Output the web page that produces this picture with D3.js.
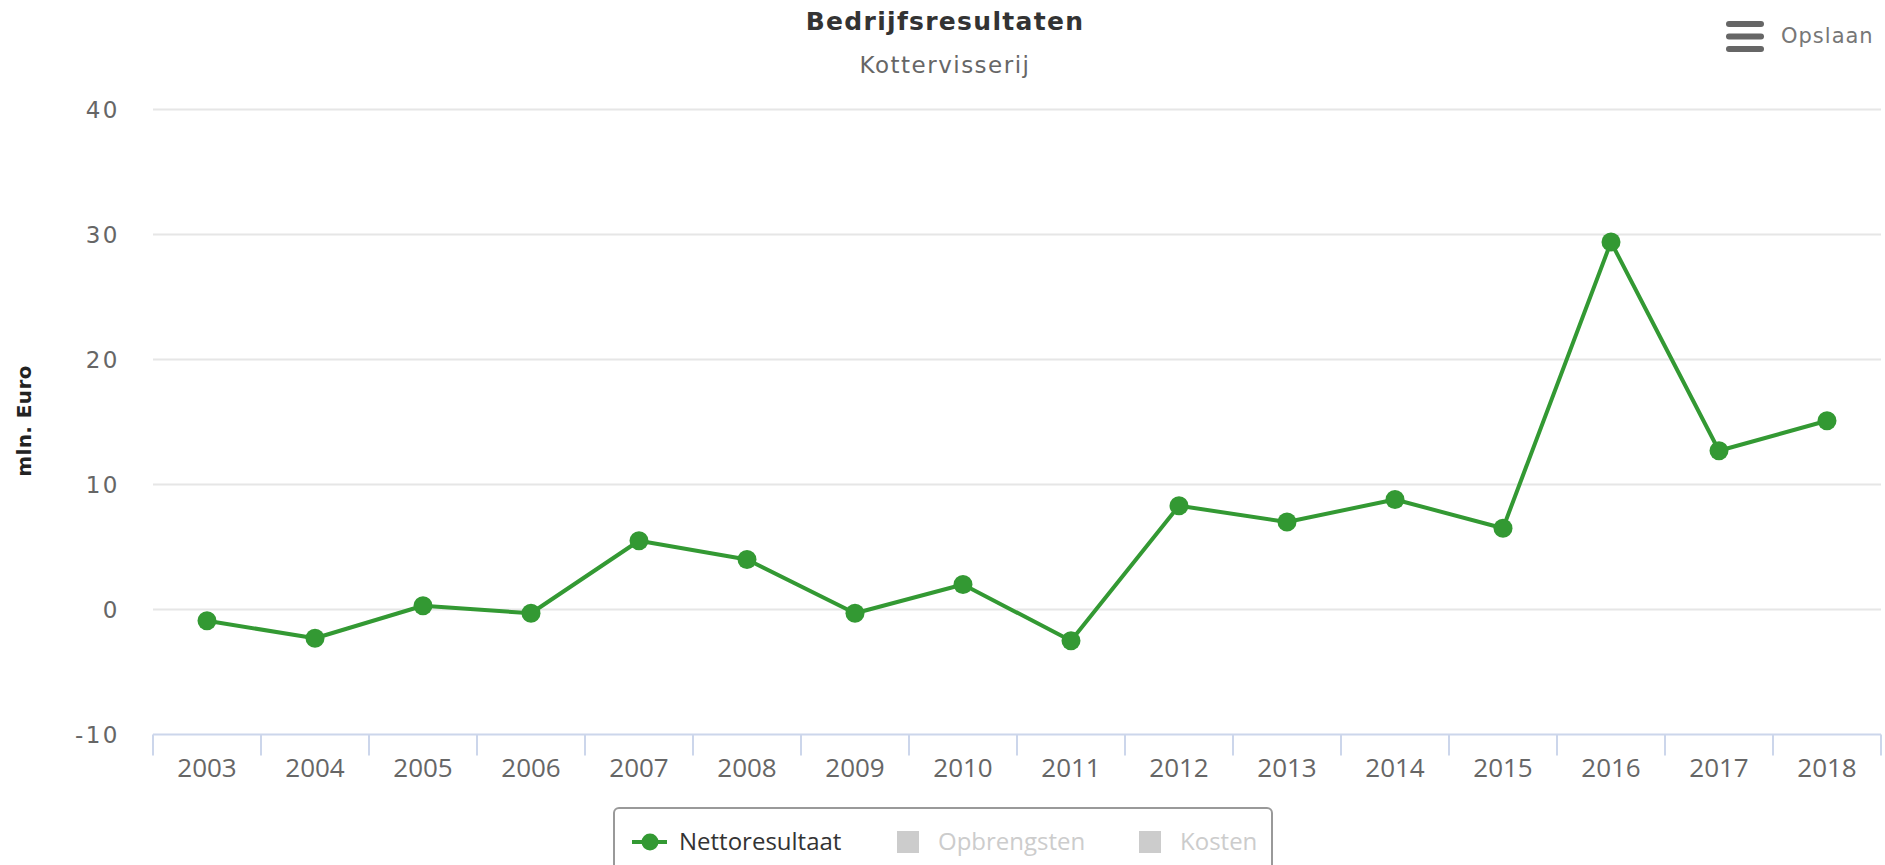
<!DOCTYPE html>
<html>
<head>
<meta charset="utf-8">
<script src="https://cdn.jsdelivr.net/npm/d3@7"></script>
<style>
body { margin:0; background:#fff; }
</style>
</head>
<body>
<svg id="chart"></svg>
<script>
var years = ["2003","2004","2005","2006","2007","2008","2009","2010","2011","2012","2013","2014","2015","2016","2017","2018"]
var nettoresultaat = [-0.9,-2.3,0.3,-0.3,5.5,4.0,-0.3,2.0,-2.5,8.3,7.0,8.8,6.5,29.4,12.7,15.1]
var yTicks = [-10,0,10,20,30,40]
var legendItems = ["Nettoresultaat","Opbrengsten","Kosten"]

var screen = {width:1885,height:865}
var margins = {top:109.5,right:4,bottom:130.5,left:153}

var svg = d3.select("#chart")
    .attr("width",screen.width)
    .attr("height",screen.height)

var width = screen.width - margins.left - margins.right
var height = screen.height - margins.top - margins.bottom

var xScale = d3.scaleBand()
    .domain(years)
    .range([0,width])

var yScale = d3.scaleLinear()
    .domain([-10,40])
    .range([height,0])

var graph = svg.append("g")
    .attr("id","graph")
    .attr("transform","translate("+margins.left+","+margins.top+")")

// gridlines
graph.append("g")
    .selectAll("line")
    .data(yTicks.slice(1))
    .enter()
    .append("line")
    .attr("x1",0)
    .attr("x2",width)
    .attr("y1",function(d){return yScale(d)})
    .attr("y2",function(d){return yScale(d)})
    .attr("stroke","#e6e6e6")
    .attr("stroke-width",2)

// y labels
graph.append("g")
    .selectAll("text")
    .data(yTicks)
    .enter()
    .append("text")
    .attr("x",-33)
    .attr("y",function(d){return yScale(d)+8})
    .attr("text-anchor","end")
    .attr("font-family","DejaVu Sans, Verdana, sans-serif")
    .attr("font-size",23)
    .attr("letter-spacing",2.5)
    .attr("fill","#666")
    .text(function(d){return d})

// x axis
var xAxis = graph.append("g")
    .attr("transform","translate(0,"+height+")")

xAxis.append("line")
    .attr("x1",0)
    .attr("x2",width)
    .attr("stroke","#ccd6eb")
    .attr("stroke-width",2)

xAxis.selectAll(".tick")
    .data(years.concat(["end"]))
    .enter()
    .append("line")
    .attr("class","tick")
    .attr("x1",function(d,i){return i*xScale.step()})
    .attr("x2",function(d,i){return i*xScale.step()})
    .attr("y1",0)
    .attr("y2",21)
    .attr("stroke","#ccd6eb")
    .attr("stroke-width",2)

xAxis.selectAll(".lbl")
    .data(years)
    .enter()
    .append("text")
    .attr("class","lbl")
    .attr("x",function(d){return xScale(d)+xScale.bandwidth()/2})
    .attr("y",42)
    .attr("text-anchor","middle")
    .attr("font-family","Open Sans, sans-serif")
    .attr("font-size",26)
    .attr("fill","#666")
    .text(function(d){return d})

// line + points
var lineGenerator = d3.line()
    .x(function(num,index){return xScale(years[index])+xScale.bandwidth()/2})
    .y(function(num){return yScale(num)})

graph.append("path")
    .datum(nettoresultaat)
    .attr("d",lineGenerator)
    .attr("fill","none")
    .attr("stroke","#339933")
    .attr("stroke-width",4)
    .attr("stroke-linejoin","round")

graph.append("g")
    .selectAll("circle")
    .data(nettoresultaat)
    .enter()
    .append("circle")
    .attr("cx",function(num,index){return xScale(years[index])+xScale.bandwidth()/2})
    .attr("cy",function(num){return yScale(num)})
    .attr("r",9.5)
    .attr("fill","#339933")

// titles
svg.append("text")
    .attr("x",945)
    .attr("y",30)
    .attr("text-anchor","middle")
    .attr("font-family","DejaVu Sans, Verdana, sans-serif")
    .attr("font-weight","bold")
    .attr("font-size",25)
    .attr("letter-spacing",1.3)
    .attr("fill","#333")
    .text("Bedrijfsresultaten")

svg.append("text")
    .attr("x",945)
    .attr("y",73)
    .attr("text-anchor","middle")
    .attr("font-family","DejaVu Sans, Verdana, sans-serif")
    .attr("font-size",23)
    .attr("letter-spacing",1.5)
    .attr("fill","#666")
    .text("Kottervisserij")

svg.append("text")
    .attr("transform","translate(31,421) rotate(-90)")
    .attr("text-anchor","middle")
    .attr("font-family","DejaVu Sans, Verdana, sans-serif")
    .attr("font-weight","bold")
    .attr("font-size",20)
    .attr("letter-spacing",0.4)
    .attr("fill","#222")
    .text("mln. Euro")

// export button
var menu = svg.append("g")
menu.selectAll("rect")
    .data([0,1,2])
    .enter()
    .append("rect")
    .attr("x",1726)
    .attr("y",function(d){return 21+d*12.5})
    .attr("width",38)
    .attr("height",6)
    .attr("rx",3)
    .attr("fill","#666")
menu.append("text")
    .attr("x",1781)
    .attr("y",43)
    .attr("font-family","DejaVu Sans, Verdana, sans-serif")
    .attr("font-size",21)
    .attr("letter-spacing",1)
    .attr("fill","#777")
    .text("Opslaan")

// legend
var legend = svg.append("g")
legend.append("rect")
    .attr("x",614)
    .attr("y",808)
    .attr("width",658)
    .attr("height",70)
    .attr("rx",5)
    .attr("fill","none")
    .attr("stroke","#999")
    .attr("stroke-width",2)

var legendX = [679,938,1180]
legend.append("line")
    .attr("x1",632).attr("x2",667)
    .attr("y1",842).attr("y2",842)
    .attr("stroke","#339933")
    .attr("stroke-width",4)
legend.append("circle")
    .attr("cx",650).attr("cy",842).attr("r",8.5)
    .attr("fill","#339933")
legend.selectAll(".sq")
    .data([1,2])
    .enter()
    .append("rect")
    .attr("class","sq")
    .attr("x",function(d){return legendX[d]-41})
    .attr("y",831)
    .attr("width",22)
    .attr("height",22)
    .attr("fill","#ccc")
legend.selectAll(".lt")
    .data(legendItems)
    .enter()
    .append("text")
    .attr("class","lt")
    .attr("x",function(d,i){return legendX[i]})
    .attr("y",850)
    .attr("font-family","Open Sans, sans-serif")
    .attr("font-size",24)
    .attr("fill",function(d,i){return i==0 ? "#333" : "#ccc"})
    .text(function(d){return d})
</script>
</body>
</html>
